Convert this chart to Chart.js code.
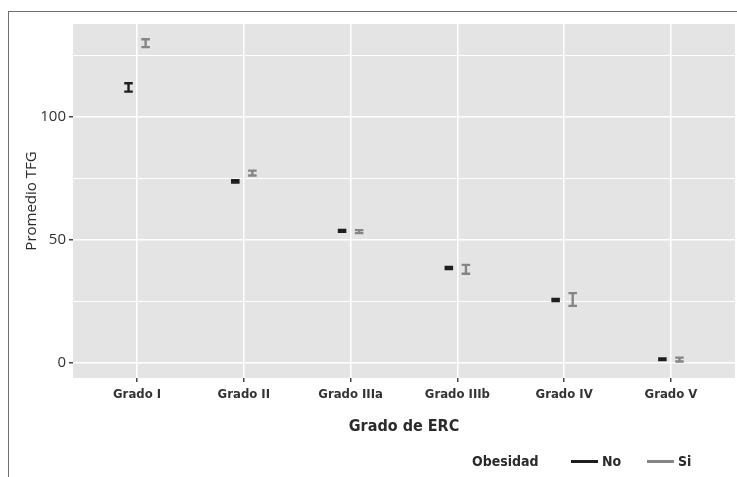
<!DOCTYPE html>
<html>
<head>
<meta charset="utf-8">
<script src="https://cdn.jsdelivr.net/npm/chart.js@4/dist/chart.umd.min.js"></script>
<style>
  html, body { margin: 0; padding: 0; background: #fff; }
  #wrap { position: relative; width: 737px; height: 477px; overflow: hidden; }
  #frame {
    position: absolute; left: 8px; top: 11px; right: -2px; bottom: -2px;
    border-left: 1.5px solid #6e6e6e; border-top: 1.5px solid #6e6e6e;
  }
  canvas { position: absolute; left: 0; top: 0; }
  .lg { position: absolute; font: bold 14px "DejaVu Sans Condensed", sans-serif; color: #2a2a2a; line-height: 18px; white-space: nowrap; }
  .sw { position: absolute; height: 3px; width: 27px; }
</style>
</head>
<body>
<div id="wrap">
  <div id="frame"></div>
  <canvas id="chart" width="737" height="477"></canvas>
  <span class="lg" style="left:472px; top:452px;">Obesidad</span>
  <span class="sw" style="left:571px; top:460px; background:#1e1e1e;"></span>
  <span class="lg" style="left:602px; top:452px;">No</span>
  <span class="sw" style="left:647px; top:460px; background:#858585;"></span>
  <span class="lg" style="left:678px; top:452px;">Si</span>
</div>
<script>
// ---- data ----
const categories = ['Grado I', 'Grado II', 'Grado IIIa', 'Grado IIIb', 'Grado IV', 'Grado V'];
const noMean = [112.0, 73.8, 53.7, 38.6, 25.6, 1.5];
const noErr  = [1.7, 0.5, 0.4, 0.4, 0.4, 0.3];
const siMean = [130.0, 77.2, 53.4, 38.1, 25.8, 1.4];
const siErr  = [1.6, 1.0, 0.6, 1.8, 2.6, 0.8];
const yMajor = [0, 50, 100];
const yMinor = [25, 75, 125];

const PANEL = '#e4e4e4';
const NO_COLOR = '#1e1e1e';
const SI_COLOR = '#858585';
const DODGE = 0.08;
const CAP = 0.04;

function points(means, errs, shift) {
    return means.map((m, i) => ({ x: i + 1 + shift, y: m, err: errs[i] }));
}

// panel background + error bars drawn through the chart scales
const errorBars = {
    id: 'errorBars',
    beforeDraw(chart) {
        const { ctx, chartArea: a } = chart;
        ctx.save();
        ctx.fillStyle = PANEL;
        ctx.fillRect(a.left, a.top, a.right - a.left, a.bottom - a.top);
        ctx.restore();
    },
    afterDatasetsDraw(chart) {
        const { ctx } = chart;
        const xs = chart.scales.x, ys = chart.scales.y;
        ctx.save();
        chart.data.datasets.forEach(ds => {
            ctx.strokeStyle = ds.borderColor;
            ctx.lineWidth = 2.4;
            ctx.lineCap = 'butt';
            ds.data.forEach(p => {
                const cx = xs.getPixelForValue(p.x);
                const l = xs.getPixelForValue(p.x - CAP);
                const r = xs.getPixelForValue(p.x + CAP);
                const top = ys.getPixelForValue(p.y + p.err);
                const bot = ys.getPixelForValue(p.y - p.err);
                ctx.beginPath();
                ctx.moveTo(cx, top); ctx.lineTo(cx, bot);
                ctx.moveTo(l, top); ctx.lineTo(r, top);
                ctx.moveTo(l, bot); ctx.lineTo(r, bot);
                ctx.stroke();
            });
        });
        ctx.restore();
    }
};

const condFont = { family: '"DejaVu Sans Condensed", sans-serif', weight: 'bold' };

new Chart(document.getElementById('chart'), {
    type: 'scatter',
    data: {
        datasets: [
            { label: 'No', data: points(noMean, noErr, -DODGE), borderColor: NO_COLOR, pointRadius: 0 },
            { label: 'Si', data: points(siMean, siErr, DODGE), borderColor: SI_COLOR, pointRadius: 0 }
        ]
    },
    options: {
        responsive: false,
        animation: false,
        layout: { padding: { left: 10, top: 24, right: 2, bottom: 40 } },
        plugins: {
            legend: { display: false },
            tooltip: { enabled: false }
        },
        scales: {
            x: {
                type: 'linear',
                min: 0.4,
                max: 6.6,
                afterBuildTicks: s => { s.ticks = categories.map((c, i) => ({ value: i + 1 })); },
                afterFit: s => { s.height = 59; },
                ticks: {
                    callback: v => categories[v - 1],
                    color: '#333',
                    font: { ...condFont, size: 13 },
                    padding: 5,
                    maxRotation: 0,
                    autoSkip: false
                },
                grid: { color: '#ffffff', lineWidth: 1.5, tickLength: 4, tickColor: '#444' },
                border: { display: false },
                title: {
                    display: true,
                    text: 'Grado de ERC',
                    color: '#2a2a2a',
                    font: { ...condFont, size: 16 },
                    padding: { top: 0, bottom: 1 }
                }
            },
            y: {
                min: -6.1,
                max: 137.8,
                afterBuildTicks: s => {
                    s.ticks = yMajor.concat(yMinor).sort((a, b) => a - b).map(v => ({ value: v }));
                },
                afterFit: s => { s.width = 63; },
                ticks: {
                    callback: v => yMajor.includes(v) ? String(v) : '',
                    color: '#333',
                    font: { family: '"Open Sans", sans-serif', size: 15 },
                    padding: 3
                },
                grid: {
                    color: '#ffffff',
                    lineWidth: c => yMajor.includes(c.tick && c.tick.value) ? 1.5 : 1,
                    tickLength: 4,
                    tickColor: c => yMajor.includes(c.tick && c.tick.value) ? '#444' : 'rgba(0,0,0,0)'
                },
                border: { display: false },
                title: {
                    display: true,
                    text: 'Promedio TFG',
                    color: '#2a2a2a',
                    font: { family: '"Open Sans", sans-serif', size: 15 },
                    padding: { top: 13, bottom: 0 }
                }
            }
        }
    },
    plugins: [errorBars]
});
</script>
</body>
</html>
